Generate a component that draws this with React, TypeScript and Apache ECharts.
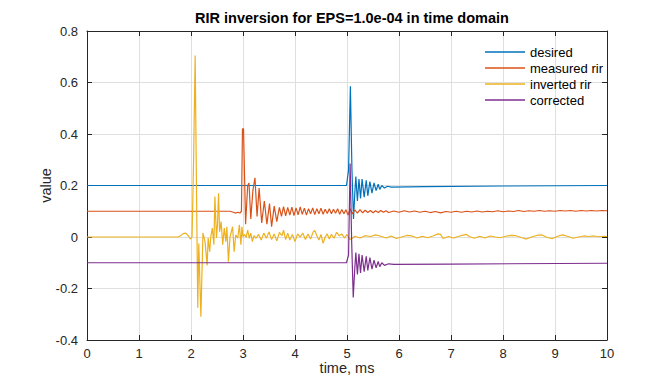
import React, { useEffect, useRef } from "react";
import * as echarts from "echarts";

const seriesNames = ["desired", "measured rir", "inverted rir", "corrected"];
const seriesColors = ["#0072BD", "#D95319", "#EDB120", "#7E2F8E"];
const titleText = "RIR inversion for EPS=1.0e-04 in time domain";
const xTicks = { min: 0, max: 10, interval: 1 };
const yTicks = { min: -0.4, max: 0.8, interval: 0.2 };

// [time ms, value]
const desired: [number, number][] = [
  [0, 0.2], [4.99, 0.2], [5.03, 0.26], [5.065, 0.585], [5.095, 0.26], [5.125, 0.07],
  [5.15, 0.17], [5.17, 0.235], [5.2, 0.14], [5.23, 0.225], [5.26, 0.15], [5.29, 0.225],
  [5.33, 0.155], [5.37, 0.22], [5.4, 0.16], [5.44, 0.215], [5.48, 0.17], [5.52, 0.21],
  [5.56, 0.18], [5.6, 0.205], [5.63, 0.185], [5.67, 0.2], [5.72, 0.19], [5.78, 0.197],
  [5.85, 0.194], [6.5, 0.196], [8, 0.198], [10, 0.2],
];

const measuredRir: [number, number][] = [
  [0, 0.1], [2.75, 0.1], [2.8, 0.097], [2.85, 0.093], [2.9, 0.096], [2.94, 0.093],
  [2.97, 0.1], [2.99, 0.42], [3.01, 0.42], [3.05, 0.05], [3.09, 0.2], [3.115, 0.21],
  [3.15, 0.07], [3.19, 0.18], [3.23, 0.23], [3.27, 0.08], [3.31, 0.19], [3.36, 0.055],
  [3.41, 0.14], [3.46, 0.05], [3.51, 0.13], [3.55, 0.04], [3.6, 0.12], [3.65, 0.06],
  [3.7, 0.115], [3.74, 0.08], [3.78, 0.118], [3.82, 0.082], [3.86, 0.115], [3.9, 0.085],
  [3.94, 0.116], [3.98, 0.083], [4.02, 0.113], [4.06, 0.086], [4.1, 0.117], [4.14, 0.088],
  [4.18, 0.112], [4.22, 0.085], [4.26, 0.11], [4.3, 0.09], [4.34, 0.113], [4.38, 0.087],
  [4.42, 0.11], [4.46, 0.09], [4.5, 0.112], [4.54, 0.088], [4.58, 0.108], [4.62, 0.091],
  [4.66, 0.11], [4.7, 0.09], [4.74, 0.108], [4.78, 0.092], [4.82, 0.11], [4.86, 0.088],
  [4.9, 0.107], [4.94, 0.09], [4.98, 0.106], [5.02, 0.085], [5.06, 0.11], [5.1, 0.09],
  [5.15, 0.105], [5.2, 0.093], [5.25, 0.106], [5.3, 0.094], [5.35, 0.104], [5.4, 0.095],
  [5.45, 0.103], [5.5, 0.094], [5.55, 0.102], [5.6, 0.095], [5.65, 0.103], [5.7, 0.096],
  [5.75, 0.102], [5.8, 0.095], [5.9, 0.101], [6.0, 0.096], [6.1, 0.102], [6.2, 0.097],
  [6.3, 0.101], [6.4, 0.096], [6.5, 0.1], [6.6, 0.095], [6.7, 0.099], [6.8, 0.094],
  [6.9, 0.099], [7.0, 0.096], [7.1, 0.1], [7.2, 0.096], [7.3, 0.1], [7.4, 0.097],
  [7.5, 0.101], [7.6, 0.097], [7.7, 0.1], [7.8, 0.098], [7.9, 0.102], [8.0, 0.098],
  [8.1, 0.101], [8.2, 0.099], [8.3, 0.103], [8.4, 0.099], [8.5, 0.102], [8.6, 0.1],
  [8.7, 0.103], [8.8, 0.1], [8.9, 0.102], [9.0, 0.1], [9.1, 0.103], [9.2, 0.101],
  [9.3, 0.103], [9.4, 0.1], [9.5, 0.103], [9.6, 0.101], [9.7, 0.103], [9.8, 0.101],
  [9.9, 0.103], [10, 0.102],
];

const invertedRir: [number, number][] = [
  [0, 0], [1.75, 0], [1.8, 0.005], [1.85, 0.013], [1.9, 0.015], [1.95, 0.005],
  [1.99, -0.008], [2.02, 0], [2.05, 0.3], [2.08, 0.705], [2.105, 0.2], [2.13, -0.275],
  [2.15, -0.025], [2.19, -0.31], [2.23, 0.015], [2.27, -0.018], [2.31, -0.11],
  [2.33, -0.004], [2.36, -0.057], [2.38, 0.001], [2.41, 0.035], [2.44, -0.03],
  [2.46, 0.157], [2.49, -0.004], [2.51, 0.05], [2.53, 0.17], [2.55, 0.02], [2.58, 0.06],
  [2.61, -0.03], [2.64, 0.035], [2.67, -0.018], [2.69, 0.04], [2.72, -0.096], [2.75, 0.0],
  [2.8, 0.04], [2.83, -0.057], [2.86, 0.008], [2.9, -0.005], [2.93, 0.047], [2.96, -0.03],
  [2.98, 0.04], [3.0, 0.0], [3.03, 0.01], [3.06, -0.002], [3.09, 0.027], [3.12, -0.005],
  [3.15, 0.015], [3.18, -0.018], [3.21, 0.005], [3.25, -0.005], [3.3, 0.01],
  [3.35, -0.012], [3.4, 0.015], [3.45, -0.005], [3.5, 0.02], [3.55, -0.01], [3.6, 0.012],
  [3.65, -0.015], [3.7, 0.018], [3.75, 0.005], [3.78, 0.027], [3.82, -0.01], [3.86, 0.015],
  [3.9, -0.012], [3.95, 0.01], [4.0, -0.018], [4.05, 0.012], [4.1, 0.0], [4.15, 0.015],
  [4.2, -0.01], [4.25, 0.012], [4.3, -0.008], [4.35, 0.02], [4.38, 0.025], [4.42, 0.005],
  [4.46, -0.012], [4.5, 0.01], [4.54, -0.025], [4.58, 0.0], [4.62, 0.012], [4.66, -0.008],
  [4.7, 0.01], [4.75, -0.005], [4.8, 0.018], [4.85, 0.005], [4.9, 0.012], [4.95, -0.004],
  [5.0, 0.01], [5.05, -0.01], [5.1, -0.005], [5.15, 0.003], [5.25, -0.004], [5.35, 0.005],
  [5.45, 0.002], [5.55, 0.008], [5.65, 0.003], [5.75, -0.004], [5.85, 0.004], [5.95, -0.006],
  [6.05, 0.0], [6.15, 0.006], [6.25, 0.004], [6.35, -0.004], [6.45, 0.003], [6.55, -0.003],
  [6.65, 0.004], [6.75, 0.012], [6.8, 0.01], [6.85, -0.006], [6.95, 0.002], [7.05, -0.004],
  [7.15, 0.003], [7.25, 0.008], [7.3, 0.01], [7.35, 0.002], [7.45, -0.005], [7.55, 0.003],
  [7.65, -0.004], [7.75, 0.004], [7.85, 0.0], [7.95, -0.003], [8.05, 0.003], [8.15, 0.006],
  [8.25, 0.005], [8.35, -0.002], [8.45, -0.008], [8.55, 0.0], [8.65, 0.006], [8.75, 0.008],
  [8.85, -0.002], [8.95, -0.006], [9.05, 0.003], [9.15, 0.008], [9.25, 0.002],
  [9.35, -0.005], [9.45, 0.0], [9.55, 0.004], [9.65, 0.002], [9.75, 0.004], [9.85, 0.001],
  [9.95, 0.003], [10, 0.002],
];

const corrected: [number, number][] = [
  [0, -0.1], [4.99, -0.1], [5.03, -0.07], [5.06, 0.285], [5.09, -0.02], [5.12, -0.235],
  [5.15, -0.12], [5.17, -0.06], [5.2, -0.145], [5.23, -0.065], [5.26, -0.14], [5.29, -0.07],
  [5.33, -0.135], [5.37, -0.075], [5.4, -0.13], [5.44, -0.08], [5.48, -0.125], [5.52, -0.09],
  [5.56, -0.12], [5.6, -0.095], [5.63, -0.115], [5.67, -0.1], [5.72, -0.11], [5.8, -0.104],
  [5.9, -0.106], [7, -0.105], [10, -0.102],
];

const seriesData = [desired, measuredRir, invertedRir, corrected];

const FONT = "'Liberation Sans', Arial, Helvetica, sans-serif";
const AXIS_COLOR = "#262626";

export default function App() {
  const ref = useRef<HTMLDivElement>(null);
  useEffect(() => {
    document.body.style.margin = "0";
    const chart = echarts.init(ref.current!, null, { renderer: "svg" });
    const fmt = (v: number) => String(Number(v.toFixed(1)));
    chart.setOption({
      animation: false,
      backgroundColor: "#ffffff",
      title: {
        text: titleText,
        left: 347,
        top: 5,
        textAlign: "center",
        textStyle: { fontFamily: FONT, fontSize: 14.5, fontWeight: "bold", color: "#000" },
      },
      legend: {
        orient: "vertical",
        left: 480,
        top: 39,
        icon: "rect",
        itemWidth: 40,
        itemHeight: 1.5,
        itemGap: 0,
        data: seriesNames,
        textStyle: { fontFamily: FONT, fontSize: 13, color: "#000", lineHeight: 16 },
      },
      grid: { left: 87, right: 65, top: 31, bottom: 44, containLabel: false },
      xAxis: [
        {
          type: "value",
          ...xTicks,
          position: "bottom",
          name: "time, ms",
          nameLocation: "middle",
          nameGap: 20,
          nameMoveOverlap: false,
          nameTextStyle: { fontFamily: FONT, fontSize: 14.5, color: AXIS_COLOR },
          axisLine: { show: true, onZero: false, lineStyle: { color: AXIS_COLOR, width: 1 } },
          axisTick: { show: true, inside: true, length: 5, lineStyle: { color: AXIS_COLOR } },
          axisLabel: { fontFamily: FONT, fontSize: 13, color: AXIS_COLOR, margin: 7, formatter: fmt },
          splitLine: { show: true, lineStyle: { color: "#dfdfdf", width: 1 } },
        },
        {
          type: "value",
          ...xTicks,
          position: "top",
          axisLine: { show: true, onZero: false, lineStyle: { color: AXIS_COLOR, width: 1 } },
          axisTick: { show: true, inside: true, length: 5, lineStyle: { color: AXIS_COLOR } },
          axisLabel: { show: false },
          splitLine: { show: false },
        },
      ],
      yAxis: [
        {
          type: "value",
          ...yTicks,
          position: "left",
          name: "value",
          nameLocation: "middle",
          nameGap: 34,
          nameMoveOverlap: false,
          nameTextStyle: { fontFamily: FONT, fontSize: 14.5, color: AXIS_COLOR },
          axisLine: { show: true, onZero: false, lineStyle: { color: AXIS_COLOR, width: 1 } },
          axisTick: { show: true, inside: true, length: 5, lineStyle: { color: AXIS_COLOR } },
          axisLabel: { fontFamily: FONT, fontSize: 13, color: AXIS_COLOR, margin: 9, formatter: fmt },
          splitLine: { show: true, lineStyle: { color: "#dfdfdf", width: 1 } },
        },
        {
          type: "value",
          ...yTicks,
          position: "right",
          axisLine: { show: true, onZero: false, lineStyle: { color: AXIS_COLOR, width: 1 } },
          axisTick: { show: true, inside: true, length: 5, lineStyle: { color: AXIS_COLOR } },
          axisLabel: { show: false },
          splitLine: { show: false },
        },
      ],
      series: seriesNames.map((name, i) => ({
        name,
        type: "line",
        xAxisIndex: 0,
        yAxisIndex: 0,
        data: seriesData[i],
        symbol: "none",
        showSymbol: false,
        lineStyle: { color: seriesColors[i], width: 1.2 },
        itemStyle: { color: seriesColors[i] },
        emphasis: { disabled: true },
      })),
    });
    return () => chart.dispose();
  }, []);
  return (
    <div
      ref={ref}
      style={{ position: "fixed", left: 0, top: 0, width: 672, height: 384 }}
    />
  );
}
